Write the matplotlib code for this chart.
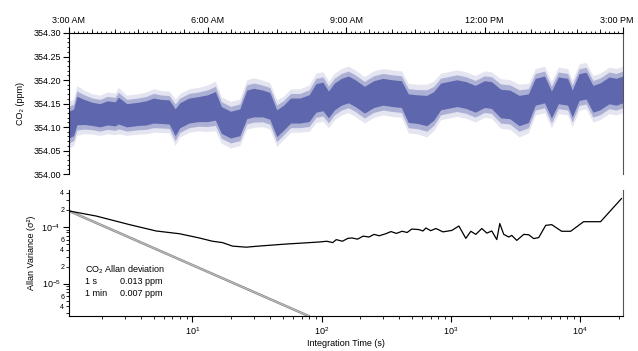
import numpy as np
import matplotlib
matplotlib.use("Agg")
import matplotlib.pyplot as plt
import matplotlib.transforms as mtransforms
from matplotlib.ticker import MultipleLocator, FixedLocator, LogLocator, NullFormatter, FuncFormatter

plt.rcParams['font.family'] = ['Liberation Sans', 'DejaVu Sans']
plt.rcParams['mathtext.fontset'] = 'custom'
plt.rcParams['mathtext.rm'] = 'Liberation Sans'
plt.rcParams['mathtext.it'] = 'Liberation Sans'

# ---------------- data ----------------
# Top panel: CO2 time series (hours of day), band centre and spread (ppm)
time_hours = [3.00, 3.10, 3.17, 3.33, 3.50, 3.67, 3.83, 4.00, 4.07, 4.25, 4.50, 4.67,
              4.83, 5.00, 5.17, 5.30, 5.40, 5.60, 5.80, 6.00, 6.17, 6.30, 6.50, 6.70,
              6.85, 7.00, 7.20, 7.35, 7.50, 7.65, 7.80, 8.00, 8.20, 8.35, 8.50, 8.62,
              8.75, 8.90, 9.05, 9.20, 9.40, 9.60, 9.80, 10.00, 10.20, 10.35, 10.55, 10.75,
              10.90, 11.05, 11.20, 11.40, 11.60, 11.80, 12.00, 12.15, 12.35, 12.55, 12.75, 12.95,
              13.10, 13.30, 13.45, 13.60, 13.80, 13.90, 14.05, 14.20, 14.35, 14.50, 14.70, 14.85, 15.00]
co2_center = [354.105, 354.110, 354.135, 354.132, 354.128, 354.125, 354.130, 354.128, 354.135, 354.125,
              354.128, 354.130, 354.135, 354.133, 354.132, 354.110, 354.125, 354.135, 354.138, 354.140,
              354.145, 354.115, 354.105, 354.110, 354.148, 354.152, 354.150, 354.145, 354.108, 354.120,
              354.135, 354.135, 354.140, 354.162, 354.165, 354.148, 354.165, 354.175, 354.180, 354.172,
              354.158, 354.170, 354.175, 354.172, 354.170, 354.140, 354.138, 354.135, 354.145, 354.165,
              354.168, 354.172, 354.168, 354.160, 354.170, 354.168, 354.150, 354.148, 354.135, 354.140,
              354.175, 354.180, 354.148, 354.178, 354.175, 354.150, 354.185, 354.188, 354.160, 354.165,
              354.178, 354.175, 354.180]
co2_core_spread = [0.030, 0.030, 0.032, 0.028, 0.026, 0.026, 0.027, 0.027, 0.030, 0.026,
                   0.026, 0.027, 0.028, 0.027, 0.027, 0.030, 0.028, 0.028, 0.028, 0.030,
                   0.032, 0.030, 0.030, 0.030, 0.032, 0.032, 0.030, 0.030, 0.030, 0.028,
                   0.028, 0.028, 0.030, 0.032, 0.032, 0.030, 0.030, 0.030, 0.030, 0.030,
                   0.030, 0.030, 0.030, 0.030, 0.030, 0.032, 0.032, 0.034, 0.032, 0.030,
                   0.030, 0.030, 0.030, 0.030, 0.030, 0.030, 0.032, 0.032, 0.034, 0.032,
                   0.030, 0.030, 0.030, 0.030, 0.030, 0.030, 0.030, 0.030, 0.030, 0.030,
                   0.030, 0.030, 0.030]

hour_ticks = [3, 6, 9, 12, 15]
hour_labels = ["3:00 AM", "6:00 AM", "9:00 AM", "12:00 PM", "3:00 PM"]

# Bottom panel: Allan variance
tau_s = [1.107, 1.80, 3.26, 5.24, 7.94, 11.3, 14.3, 17.1, 20.4, 26.1, 31.2, 39.4, 53.2, 70.8,
         95.7, 110, 122, 130, 145, 160, 172, 190, 210, 233, 255, 280, 316, 345, 380, 420,
         460, 500, 568, 610, 643, 700, 769, 871, 1021, 1157, 1310, 1432, 1566, 1742, 1905,
         2081, 2275, 2400, 2577, 2818, 2972, 3250, 3680, 4020, 4395, 4806, 5445, 6058,
         7235, 8490, 10700, 14480, 21040]
allan_var = [1.92e-4, 1.56e-4, 1.10e-4, 8.5e-5, 7.6e-5, 6.4e-5, 5.6e-5, 5.3e-5, 4.6e-5, 4.4e-5,
             4.56e-5, 4.75e-5, 5.0e-5, 5.2e-5, 5.43e-5, 5.6e-5, 5.3e-5, 5.98e-5, 5.6e-5, 6.3e-5,
             6.4e-5, 6.1e-5, 6.9e-5, 6.65e-5, 7.4e-5, 7.0e-5, 7.64e-5, 8.3e-5, 7.7e-5, 8.4e-5,
             8.0e-5, 9.2e-5, 9.0e-5, 8.5e-5, 9.6e-5, 8.6e-5, 9.4e-5, 8.2e-5, 8.7e-5, 1.04e-4,
             6.3e-5, 8.4e-5, 7.4e-5, 9.4e-5, 7.8e-5, 8.5e-5, 6.0e-5, 1.15e-4, 7.4e-5, 6.65e-5,
             7.1e-5, 5.8e-5, 7.4e-5, 7.3e-5, 6.24e-5, 6.5e-5, 1.07e-4, 1.10e-4, 8.4e-5, 8.4e-5,
             1.24e-4, 1.24e-4, 3.18e-4]
white_tau = [1.107, 80.8]
white_var = [1.92e-4, 2.63e-6]

legend_title = "CO$_2$ Allan deviation"
legend_rows = [("1 s", "0.013 ppm"), ("1 min", "0.007 ppm")]

# ---------------- figure ----------------
W, H = 638, 351
fig = plt.figure(figsize=(W / 100, H / 100), dpi=100)
ax1 = fig.add_axes([69 / W, 1 - 174 / H, (623 - 69) / W, (174 - 33) / H])
ax2 = fig.add_axes([69 / W, 1 - 316 / H, (623 - 69) / W, (316 - 190) / H])

blue = '#5a62ab'
fs = 6.5

# top panel
t = np.array(time_hours)
c = np.array(co2_center)
s = np.array(co2_core_spread)
ax1.fill_between(t, c - 1.65 * s, c + 1.65 * s, color=blue, alpha=0.16, linewidth=0)
ax1.fill_between(t, c - 1.3 * s, c + 1.3 * s, color=blue, alpha=0.4, linewidth=0)
ax1.fill_between(t, c - 0.95 * s, c + 0.95 * s, color=blue, alpha=0.95, linewidth=0)

ax1.set_xlim(3, 15)
ax1.set_ylim(354.0, 354.3)
ax1.xaxis.set_ticks_position('top')
ax1.xaxis.set_label_position('top')
ax1.set_xticks(hour_ticks)
ax1.set_xticklabels(hour_labels)
ax1.xaxis.set_minor_locator(MultipleLocator(0.1))
ax1.yaxis.set_major_locator(MultipleLocator(0.05))
ax1.yaxis.set_minor_locator(MultipleLocator(0.01))
ax1.yaxis.set_major_formatter(FuncFormatter(lambda v, p: f"{v:.2f}"))
ax1.spines['bottom'].set_visible(False)
ax1.spines['right'].set_color('#555555')
for sp in ['top', 'left']:
    ax1.spines[sp].set_linewidth(0.8)
ax1.tick_params(axis='both', which='major', direction='out', length=4, width=0.8,
                labelsize=fs, pad=2)
ax1.tick_params(axis='both', which='minor', direction='out', length=1.8, width=0.6)
ax1.tick_params(axis='x', which='both', top=True, bottom=False)
ax1.tick_params(axis='y', which='both', right=False)
sec = ax1.secondary_xaxis('top')
sec.set_xticks(np.arange(3, 15.01, 0.5))
sec.set_xticklabels([])
sec.tick_params(length=2.8, width=0.6, direction='out')
sec.spines['top'].set_visible(False)
ax1.set_ylabel("CO₂ (ppm)", fontsize=fs, labelpad=6)
# keep the last time label inside the canvas
last = ax1.get_xticklabels()[-1]
last.set_transform(last.get_transform() + mtransforms.ScaledTranslation(-6 / 100, 0, fig.dpi_scale_trans))

# bottom panel
ax2.plot(white_tau, white_var, color='#8c8c8c', lw=1.8, solid_capstyle='butt')
ax2.plot(white_tau, white_var, color='#c8c8c8', lw=0.6, solid_capstyle='butt')
ax2.plot(tau_s, allan_var, color='black', lw=0.9)
ax2.set_xscale('log')
ax2.set_yscale('log')
ax2.set_xlim(1.107, 21600)
ax2.set_ylim(2.68e-6, 4.5e-4)
ax2.spines['top'].set_visible(False)
ax2.spines['right'].set_color('#555555')
ax2.xaxis.set_major_locator(FixedLocator([10, 100, 1000, 10000]))
ax2.xaxis.set_major_formatter(FuncFormatter(lambda v, p: f"$10^{{{int(round(np.log10(v)))}}}$"))
ax2.xaxis.set_minor_locator(LogLocator(base=10, subs=np.arange(2, 10)))
ax2.xaxis.set_minor_formatter(NullFormatter())
ax2.yaxis.set_major_locator(FixedLocator([1e-5, 1e-4]))
ax2.yaxis.set_major_formatter(FuncFormatter(lambda v, p: f"$10^{{{int(round(np.log10(v)))}}}$"))
ax2.yaxis.set_minor_locator(LogLocator(base=10, subs=np.arange(2, 10)))


def minor_y(v, p):
    m = v / 10 ** np.floor(np.log10(v) + 1e-9)
    mi = int(round(m))
    return str(mi) if mi in (2, 4, 6) else ""


ax2.yaxis.set_minor_formatter(FuncFormatter(minor_y))
ax2.tick_params(axis='both', which='major', direction='out', length=4, width=0.8,
                labelsize=fs, pad=2)
ax2.tick_params(axis='both', which='minor', direction='out', length=2, width=0.6,
                labelsize=5, pad=1.5)
ax2.tick_params(axis='x', which='major', pad=3)
ax2.tick_params(axis='y', which='both', right=False)
ax2.set_xlabel("Integration Time (s)", fontsize=fs, labelpad=1)
ax2.set_ylabel("Allan Variance (σ²)", fontsize=fs, labelpad=4)

ax2.text(0.029, 0.365, legend_title, transform=ax2.transAxes, fontsize=fs, va='center')
for i, (a, b) in enumerate(legend_rows):
    yy = 0.27 - 0.088 * i
    ax2.text(0.029, yy, a, transform=ax2.transAxes, fontsize=fs, va='center')
    ax2.text(0.092, yy, b, transform=ax2.transAxes, fontsize=fs, va='center')

fig.savefig("out.png", dpi=100)
